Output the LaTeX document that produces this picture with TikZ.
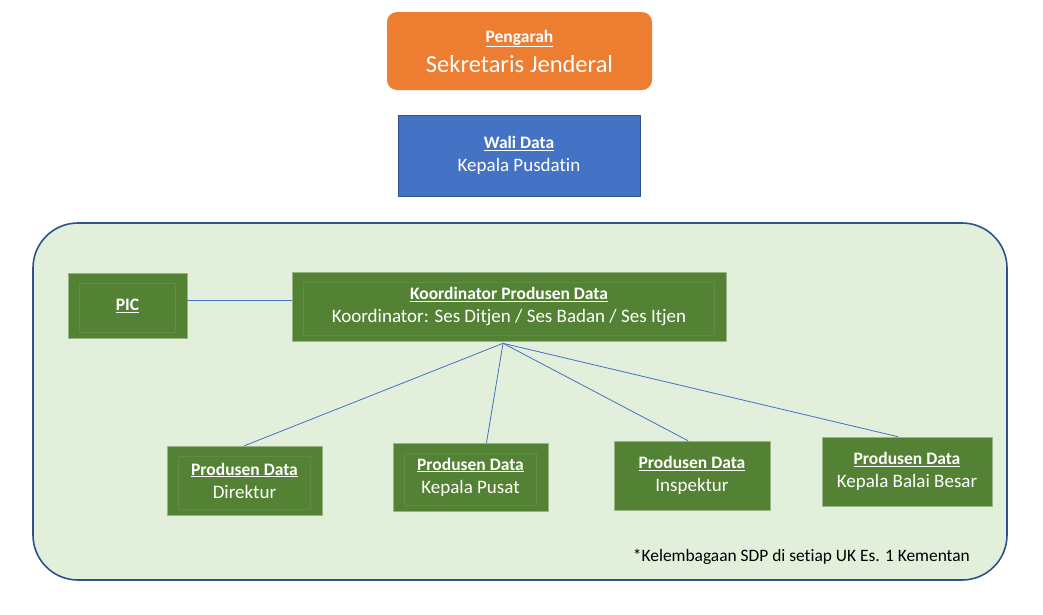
\documentclass[tikz,border=0pt]{standalone}
\usepackage{fontspec}
\setmainfont{Carlito}[RawFeature=-liga]
\usetikzlibrary{calc}
\definecolor{orgfill}{HTML}{ED7D31}
\definecolor{bluefill}{HTML}{4472C4}
\definecolor{bluedark}{HTML}{2F528F}
\definecolor{grnfill}{HTML}{548235}
\definecolor{grnline}{HTML}{5F8C42}
\definecolor{grnback}{HTML}{E2EFDA}
\newcommand{\hd}[1]{{\fontsize{17.5}{20}\selectfont\textbf{\underline{#1}}}}
\begin{document}
\begin{tikzpicture}[x=1pt,y=-1pt,line join=round,line cap=round,
	every node/.style={text=white,align=center,inner sep=0pt},
	gbox/.style={fill=grnfill,draw=grnfill!60!white,line width=0.6pt,font=\fontsize{19}{23}\selectfont},
	inner/.style={draw=grnline,line width=0.5pt},
	link/.style={draw=bluefill,line width=0.8pt}]
	\useasboundingbox (0,0) rectangle (1043,614);
	% atas
	\node[fill=orgfill,rounded corners=10pt,minimum width=265,minimum height=78,font=\fontsize{24.5}{28}\selectfont] (pengarah) at (519.5,51)
		{\hd{Pengarah}\\[2pt]Sekretaris Jenderal};
	\node[fill=bluefill,draw=bluedark,line width=1pt,minimum width=242,minimum height=81,font=\fontsize{19}{23}\selectfont] (wali) at (519,155.5)
		{\hd{Wali Data}\\[0pt]Kepala Pusdatin};
	% area SDP
	\draw[fill=grnback,draw=bluedark,line width=1.6pt,rounded corners=45pt] (33,223) rectangle (1007,580);
	\node[gbox,minimum width=119,minimum height=65] (pic) at (127.5,305.5) {\hd{PIC}};
	\node[gbox,minimum width=434,minimum height=69] (koord) at (509,306.5)
		{\hd{Koordinator Produsen Data}\\[0pt]Koordinator: Ses Ditjen / Ses Badan / Ses Itjen};
	\node[gbox,minimum width=155,minimum height=69] (dir) at (244.5,480.5)
		{\hd{Produsen Data}\\[0pt]Direktur};
	\node[gbox,minimum width=155,minimum height=68] (pusat) at (470.5,477)
		{\hd{Produsen Data}\\[0pt]Kepala Pusat};
	\node[gbox,minimum width=156,minimum height=69] (insp) at (692,475.5)
		{\hd{Produsen Data}\\[0pt]Inspektur};
	\node[gbox,minimum width=170,minimum height=69] (balai) at (907,471.5)
		{\hd{Produsen Data}\\[0pt]Kepala Balai Besar};
	\foreach \n in {pic,koord,dir,pusat}
		\draw[inner] ([shift={(12pt,6pt)}]\n.south west) rectangle ([shift={(-12pt,-11pt)}]\n.north east);
	% garis
	\coordinate (hub) at ($(koord.south)+(-6,2)$);
	\draw[link] (pic.east|-0,300) -- (koord.west|-0,300);
	\draw[link] (hub) -- (dir.north);
	\draw[link] (hub) -- ($(pusat.north)+(16,0)$);
	\draw[link] (hub) -- ($(insp.north)+(-4,0)$);
	\draw[link] (hub) -- ($(balai.north)+(-9,0)$);
	\node[text=black,anchor=east,font=\fontsize{17.4}{20}\selectfont] (ket) at (970,557) {*Kelembagaan SDP di setiap UK Es. 1 Kementan};
\end{tikzpicture}
\end{document}
